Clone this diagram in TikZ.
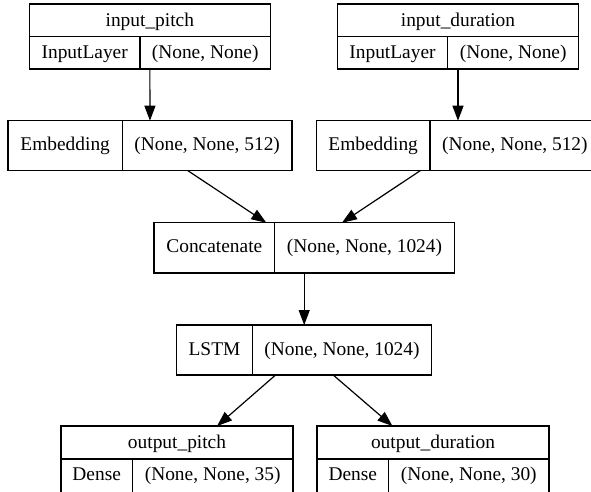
\documentclass[tikz,border=0pt]{standalone}
\usepackage{fontspec}
\newfontfamily\tms{Liberation Serif}
\usetikzlibrary{arrows.meta}
\begin{document}
\begin{tikzpicture}[x=1pt,y=-1pt,
  rec/.style={draw=black, line width=1.2pt, inner sep=0pt, outer sep=0pt, rectangle},
  lbl/.style={anchor=base, inner sep=0pt, font=\tms\fontsize{19.4}{23}\selectfont},
  sep/.style={draw=black, line width=1.2pt},
  edge/.style={draw=black, line width=1.2pt, -{Triangle[length=15pt,width=11pt]}}]
\useasboundingbox[fill=white] (0,0) rectangle (591,491);
% input_pitch
\node[rec, minimum width=241pt, minimum height=65pt] (ip) at (149.8,36.5) {};
\draw[sep] (ip.west) -- (ip.east);
\coordinate (ipd) at (140,36.5);
\draw[sep] (ipd) -- (ipd |- ip.south);
\node[lbl] (ipt) at (149.8,26) {input\_pitch};
\node[lbl] (ipa) at (84.7,58) {InputLayer};
\node[lbl] (ipb) at (205.2,58) {(None, None)};
% input_duration
\node[rec, minimum width=241.4pt, minimum height=65pt] (id) at (458,36.5) {};
\draw[sep] (id.west) -- (id.east);
\coordinate (idd) at (447.7,36.5);
\draw[sep] (idd) -- (idd |- id.south);
\node[lbl] (idt) at (458,26) {input\_duration};
\node[lbl] (ida) at (392.5,58) {InputLayer};
\node[lbl] (idb) at (513.2,58) {(None, None)};
% embedding 1
\node[rec, minimum width=284pt, minimum height=49.6pt] (e1) at (150,145.5) {};
\coordinate (e1d) at (122.3,145.5);
\draw[sep] (e1d |- e1.north) -- (e1d |- e1.south);
\node[lbl] (e1a) at (65.2,150.5) {Embedding};
\node[lbl] (e1b) at (207.2,150.5) {(None, None, 512)};
% embedding 2
\node[rec, minimum width=283.4pt, minimum height=49.6pt] (e2) at (458,145.5) {};
\coordinate (e2d) at (430,145.5);
\draw[sep] (e2d |- e2.north) -- (e2d |- e2.south);
\node[lbl] (e2a) at (373.2,150.5) {Embedding};
\node[lbl] (e2b) at (514.9,150.5) {(None, None, 512)};
% concatenate
\node[rec, minimum width=300.3pt, minimum height=50.3pt] (cc) at (304.2,247.9) {};
\coordinate (ccd) at (274.7,247.9);
\draw[sep] (ccd |- cc.north) -- (ccd |- cc.south);
\node[lbl] (cca) at (214.3,252.9) {Concatenate};
\node[lbl] (ccb) at (364.5,252.9) {(None, None, 1024)};
% LSTM
\node[rec, minimum width=255pt, minimum height=50pt] (ls) at (304.2,350) {};
\coordinate (lsd) at (252.3,350);
\draw[sep] (lsd |- ls.north) -- (lsd |- ls.south);
\node[lbl] (lsa) at (214.5,355) {LSTM};
\node[lbl] (lsb) at (342,355) {(None, None, 1024)};
% output_pitch
\node[rec, minimum width=232pt, minimum height=70pt] (op) at (177,461) {};
\coordinate (opm) at (177,459);
\draw[sep] (opm -| op.west) -- (opm -| op.east);
\coordinate (opd) at (132.3,459);
\draw[sep] (opd) -- (opd |- op.south);
\node[lbl] (opt) at (177,448) {output\_pitch};
\node[lbl] (opa) at (96.7,480.5) {Dense};
\node[lbl] (opb) at (212.7,480.5) {(None, None, 35)};
% output_duration
\node[rec, minimum width=232pt, minimum height=70pt] (od) at (433,461) {};
\coordinate (odm) at (433,459);
\draw[sep] (odm -| od.west) -- (odm -| od.east);
\coordinate (odd) at (388.7,459);
\draw[sep] (odd) -- (odd |- od.south);
\node[lbl] (odt) at (433,448) {output\_duration};
\node[lbl] (oda) at (352.8,480.5) {Dense};
\node[lbl] (odb) at (468.8,480.5) {(None, None, 30)};
% edges
\draw[edge] (ip) -- (e1);
\draw[edge] (id) -- (e2);
\draw[edge] (e1) -- (cc);
\draw[edge] (e2) -- (cc);
\draw[edge] (cc) -- (ls);
\draw[edge] (ls) -- (op);
\draw[edge] (ls) -- (od);
\end{tikzpicture}
\end{document}
